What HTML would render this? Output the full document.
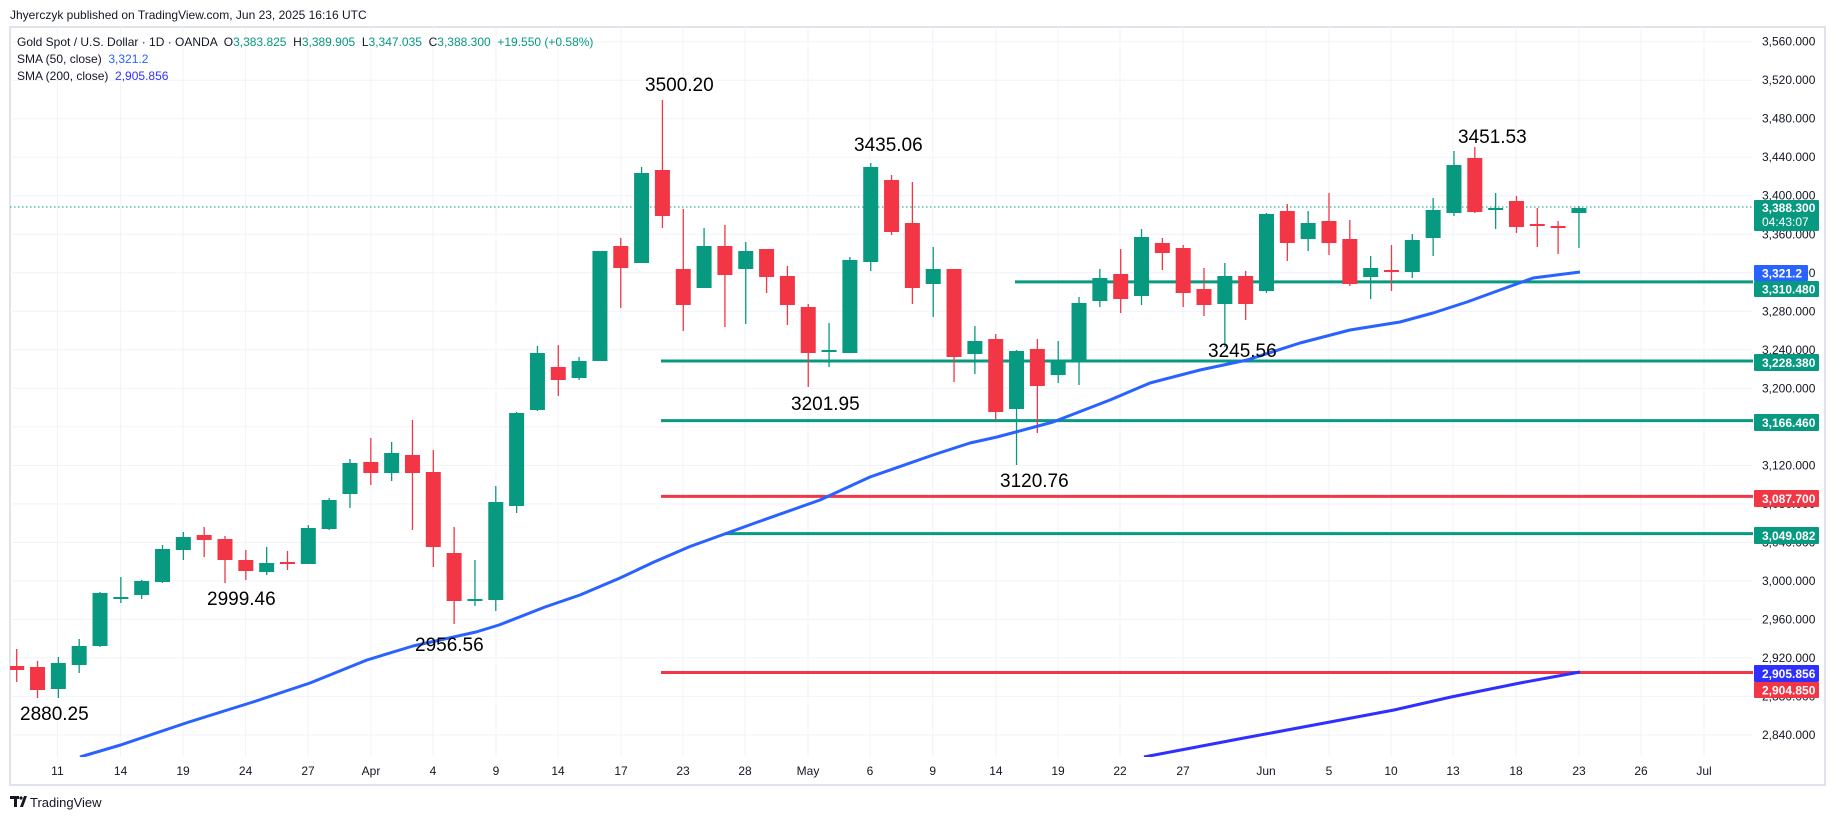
<!DOCTYPE html>
<html><head><meta charset="utf-8">
<style>
html,body{margin:0;padding:0;background:#fff;}
body{width:1835px;height:820px;overflow:hidden;position:relative;font-family:"Liberation Sans",sans-serif;}
</style></head>
<body>
<svg id="s" width="1835" height="820" xmlns="http://www.w3.org/2000/svg" style="position:absolute;left:0;top:0;font-family:'Liberation Sans',sans-serif">
<defs><clipPath id="pc"><rect x="10" y="27" width="1743" height="730"/></clipPath></defs>
<rect x="10" y="27" width="1815" height="758" fill="#fff" stroke="#e0e3eb" stroke-width="2"/>
<g id="grid" stroke="#f0f3fa" stroke-width="1"></g>
<g id="lines" clip-path="url(#pc)"></g>
<g id="candles" clip-path="url(#pc)"></g>
<g clip-path="url(#pc)">
<polyline fill="none" stroke="#2962ff" stroke-width="3" stroke-linejoin="round" points="80,757 120.6,745 189,722 253,702 310,683 367,660 413,646 476,632 499,625 545,607 580,595 620,578 654,562 690,546.5 755,523 820,500 870,477 933,455 970,443 997,437 1053,422 1110,400 1150,383 1200,370 1247,360 1300,343 1350,330 1400,322 1433,313 1467,302 1500,290 1533,278 1580,272"/>
<polyline fill="none" stroke="#2f2fff" stroke-width="3" stroke-linejoin="round" points="1144,757 1244,738 1330,722 1394,710 1451,697 1520,683 1580,672"/>
</g>
<g id="axis" font-size="12" fill="#131722"></g>
<g id="badges" font-size="12" font-weight="bold" fill="#fff"></g>
<g font-size="19" fill="#000">
<text x="20" y="720">2880.25</text>
<text x="207" y="605">2999.46</text>
<text x="415" y="651">2956.56</text>
<text x="645" y="91">3500.20</text>
<text x="854" y="151">3435.06</text>
<text x="791" y="410">3201.95</text>
<text x="1000" y="487">3120.76</text>
<text x="1208" y="357">3245.56</text>
<text x="1458" y="143">3451.53</text>
</g>
<text x="10" y="19" font-size="12" fill="#131722">Jhyerczyk published on TradingView.com, Jun 23, 2025 16:16 UTC</text>
<text x="17" y="46" font-size="12" fill="#131722" xml:space="preserve">Gold Spot / U.S. Dollar · 1D · OANDA  O<tspan fill="#089981">3,383.825</tspan>  H<tspan fill="#089981">3,389.905</tspan>  L<tspan fill="#089981">3,347.035</tspan>  C<tspan fill="#089981">3,388.300</tspan>  <tspan fill="#089981">+19.550 (+0.58%)</tspan></text>
<text x="17" y="63" font-size="12" fill="#131722" xml:space="preserve">SMA (50, close)  <tspan fill="#2962ff">3,321.2</tspan></text>
<text x="17" y="80" font-size="12" fill="#131722" xml:space="preserve">SMA (200, close)  <tspan fill="#2f2fff">2,905.856</tspan></text>
<g fill="#131722"><rect x="10" y="796" width="9" height="3"/><rect x="14" y="796" width="3" height="11"/><polygon points="20,807 24,796 27,796 23,807"/><circle cx="21" cy="798" r="1.6"/></g>
<text x="30" y="807" font-size="13" fill="#131722">TradingView</text>
</svg>
<script>
(function(){
var NS="http://www.w3.org/2000/svg";
function el(p,t,a,txt){var e=document.createElementNS(NS,t);for(var k in a)e.setAttribute(k,a[k]);if(txt!==undefined)e.textContent=txt;document.getElementById(p).appendChild(e);return e;}
function Y(p){return 388.3+(3200-p)*0.9628;}
var G="#089981",R="#f23645";
for(var p=2840;p<=3560;p+=40){var y=Y(p);el("grid","line",{x1:10,x2:1753,y1:y,y2:y});}
var dl=[[57.4,"11"],[120.6,"14"],[183,"19"],[245.6,"24"],[308,"27"],[371,"Apr"],[433,"4"],[496,"9"],[558,"14"],[621,"17"],[683,"23"],[745,"28"],[808,"May"],[870,"6"],[932.7,"9"],[995.9,"14"],[1058,"19"],[1120,"22"],[1183,"27"],[1266,"Jun"],[1329,"5"],[1391,"10"],[1453,"13"],[1516,"18"],[1579,"23"],[1641,"26"],[1704,"Jul"]];
dl.forEach(function(d){el("grid","line",{x1:d[0],x2:d[0],y1:27,y2:757});el("axis","text",{x:d[0],y:775,"text-anchor":"middle"},d[1]);});
var pl=[3560,3520,3480,3440,3400,3360,3280,3240,3200,3120,3080,3040,3000,2960,2920,2880,2840];
pl.forEach(function(p){el("axis","text",{x:1762,y:Y(p)+4},p.toLocaleString("en-US")+".000");});
el("axis","text",{x:1762,y:Y(3320)+4},"3,320.000");
function hl(p,x,c){var y=Y(p);el("lines","line",{x1:x,x2:1753,y1:y,y2:y,stroke:c,"stroke-width":3});}
hl(3310.48,1015,G);hl(3228.38,661,G);hl(3166.46,661,G);hl(3087.7,661,R);hl(3049.082,725,G);hl(2904.85,661,R);
el("lines","line",{x1:10,x2:1753,y1:207,y2:207,stroke:G,"stroke-width":1,"stroke-dasharray":"1.5,2.5"});
var c=[["r",649,682,666,670],["r",661,698,667,690],["g",657,698,663,689],["g",639,673,646,665],["g",592,647,593,646],["g",577,603,597,598],["g",580,599,581,595],["g",545,583,549,582],["g",532,560,537,550],["r",527,557,535,540],["r",536,583,539,560],["r",550,580,560,571],["g",547,575,563,572],["r",551,570,562,564],["g",525,564,528,564],["g",498,530,500,529],["g",459,508,463,494],["r",438,485,462,473],["g",442,481,453,473],["r",420,530,455,473],["r",450,567,472,547],["r",527,624,553,601],["g",560,606,599,600],["g",486,611,502,600],["g",412,513,413,506],["g",346,411,353,410],["r",345,396,367,380],["g",357,380,361,378],["g",251,361,251,361],["r",238,308,246,268],["g",167,263,173,263],["r",100,228,170,216],["r",209,331,269,305],["g",228,288,246,288],["r",225,327,246,275],["g",242,324,251,269],["r",249,293,249,277],["r",266,325,276,305],["r",304,387,307,353],["g",323,367,350,351],["g",257,353,260,353],["g",163,271,167,262],["r",175,235,180,232],["r",182,304,223,288],["g",247,317,269,284],["r",269,382,269,357],["g",326,374,341,354],["r",334,420,339,412],["g",350,465,351,409],["r",339,433,349,386],["g",341,383,360,375],["g",297,385,303,361],["g",269,307,278,301],["r",249,313,274,299],["g",229,305,237,296],["r",238,270,243,253],["r",245,307,248,293],["r",268,316,289,305],["g",263,347,276,304],["r",271,320,276,304],["g",213,293,214,291],["r",204,261,211,243],["g",211,251,223,239],["r",193,255,221,243],["r",220,286,239,284],["g",256,299,268,277],["r",245,291,270,272],["g",234,278,240,272],["g",198,256,210,238],["g",151,216,165,213],["r",147,213,158,212],["g",193,229,208,209],["r",196,233,201,227],["r",208,247,224,225],["r",221,254,226,227],["g",206,248,208,213]];
c.forEach(function(d,i){var x=16.7+20.83*i,col=d[0]=="g"?G:R;
el("candles","line",{x1:x,x2:x,y1:d[1],y2:d[2],stroke:col,"stroke-width":1.3});
var h=Math.max(d[4]-d[3],2);el("candles","rect",{x:x-7.5,y:d[3],width:15,height:h,fill:col});});
function bd(y1,y2,col,t,w){el("badges","rect",{x:1754,y:y1,width:w||65,height:y2-y1,fill:col,rx:1});el("badges","text",{x:1762,y:(y1+y2)/2+4.5},t);}
el("badges","rect",{x:1754,y:200,width:65,height:31,fill:G,rx:1});
el("badges","text",{x:1762,y:212},"3,388.300");el("badges","text",{x:1762,y:226,"font-weight":"normal"},"04:43:07");
bd(265,281,"#2962ff","3,321.2",54);bd(281,297,G,"3,310.480");bd(354,371,G,"3,228.380");bd(414,431,G,"3,166.460");bd(490,507,R,"3,087.700");bd(527,544,G,"3,049.082");bd(665,682,"#2f2fff","2,905.856");bd(682,698,R,"2,904.850");
})();
</script>
</body></html>
